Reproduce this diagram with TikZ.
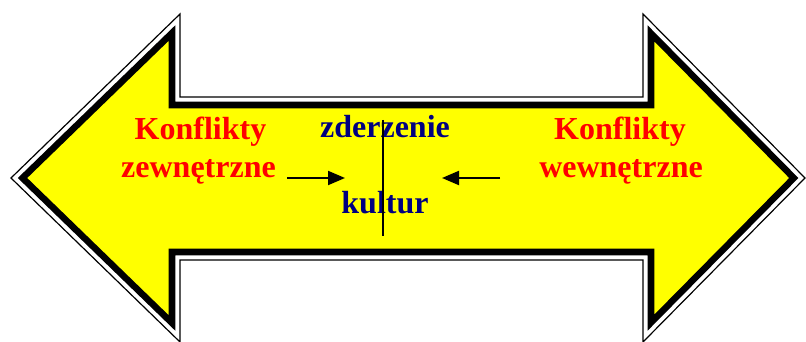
\documentclass[tikz,border=0pt]{standalone}
\usepackage{fontspec}
\setmainfont{Liberation Serif}
\usetikzlibrary{arrows.meta}
\definecolor{arrowyellow}{RGB}{255,255,0}
\definecolor{conflictred}{RGB}{255,0,0}
\definecolor{culturenavy}{RGB}{0,0,128}
\tikzset{
  outerrim/.style={draw=black, line width=0.9pt, miter limit=20},
  innerbody/.style={draw=black, fill=arrowyellow, line width=4.9pt, line join=miter, miter limit=20},
  redlabel/.style={text=conflictred, font=\bfseries\fontsize{24}{28}\selectfont, anchor=base, inner sep=0pt},
  navylabel/.style={text=culturenavy, font=\bfseries\fontsize{24}{28}\selectfont, anchor=base, inner sep=0pt},
  pointer/.style={draw=black, line width=1.5pt, -{Triangle[length=12.75pt, width=10.5pt]}},
  divider/.style={draw=black, line width=1.5pt}
}
\begin{document}
\begin{tikzpicture}[x=0.75pt, y=-0.75pt]
  \useasboundingbox (0,0) rectangle (806,342);
  % thin outer contour of the double-headed arrow
  \draw[outerrim] (11,178) -- (180,14) -- (180,97) -- (643,97) -- (643,14)
    -- (805,178) -- (643,342) -- (643,260) -- (180,260) -- (180,342) -- cycle;
  % yellow body with heavy black rim
  \draw[innerbody] (22.5,178) -- (172,33) -- (172,105) -- (651,105) -- (651,33.4)
    -- (793.8,178) -- (651,322.6) -- (651,252) -- (172,252) -- (172,323) -- cycle;

  % left and right labels
  \node[redlabel] (lk) at (200.5,140) {Konflikty};
  \node[redlabel] (lz) at (198.5,177) {zewnętrzne};
  \node[redlabel] (rk) at (620,140) {Konflikty};
  \node[redlabel] (rw) at (621,177) {wewnętrzne};

  % centre labels
  \node[navylabel] (zd) at (385,138) {zderzenie};
  \node[navylabel] (ku) at (385,213) {kultur};

  % dividing line between the two sides
  \coordinate (dtop) at (383,120);
  \coordinate (dbot) at (383,236);
  \draw[divider] (dtop) -- (dbot);

  % converging arrows
  \coordinate (la) at (287,178);
  \coordinate (lb) at (345,178);
  \coordinate (ra) at (500,178);
  \coordinate (rb) at (442,178);
  \draw[pointer] (la) -- (lb);
  \draw[pointer] (ra) -- (rb);
\end{tikzpicture}
\end{document}
